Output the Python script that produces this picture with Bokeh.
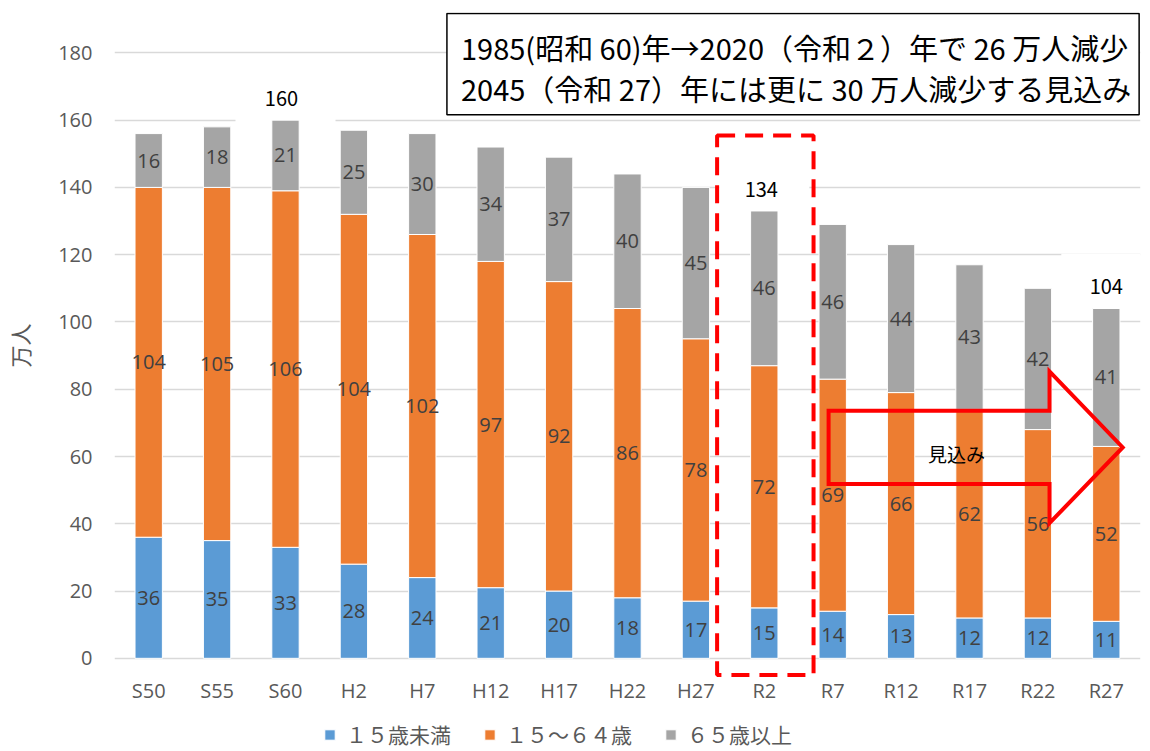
from bokeh.plotting import figure
from bokeh.models import ColumnDataSource, FixedTicker, Legend, LegendItem, Range1d, FactorRange
from bokeh.layouts import column
from bokeh.core.properties import value
from bokeh.embed import file_html
from bokeh.resources import INLINE
import numpy as np

# ---------------- data ----------------
cats = ["S50", "S55", "S60", "H2", "H7", "H12", "H17", "H22", "H27",
        "R2", "R7", "R12", "R17", "R22", "R27"]
under15 = [36, 35, 33, 28, 24, 21, 20, 18, 17, 15, 14, 13, 12, 12, 11]
age15_64 = [104, 105, 106, 104, 102, 97, 92, 86, 78, 72, 69, 66, 62, 56, 52]
over65 = [16, 18, 21, 25, 30, 34, 37, 40, 45, 46, 46, 44, 43, 42, 41]
series_names = ["１５歳未満", "１５～６４歳", "６５歳以上"]
y_ticks = [0, 20, 40, 60, 80, 100, 120, 140, 160, 180]
note_cats = ["S60", "R2", "R27"]
note_texts = ["160", "134", "104"]
title_lines = ["1985(昭和 60)年→2020（令和２）年で 26 万人減少",
               "2045（令和 27）年には更に 30 万人減少する見込み"]
arrow_text = "見込み"
y_label = "万人"

colors = ["#5B9BD5", "#ED7D31", "#A5A5A5"]
JP = "Noto Sans CJK JP"
NUM = "Open Sans"

p = figure(x_range=FactorRange(*cats), y_range=Range1d(-6, 192),
           width=1142, height=714, output_backend="svg", toolbar_location=None,
           min_border_left=105, min_border_right=2, min_border_top=12,
           min_border_bottom=36)
p.outline_line_color = None
p.xgrid.visible = False
p.ygrid.grid_line_color = "#D9D9D9"
p.ygrid.grid_line_width = 1.5

# totals
u = np.array(under15); a = np.array(age15_64); o = np.array(over65)
tot = u + a + o
tot_map = dict(zip(cats, tot))

# white text boxes behind the total notes (hide gridlines)
note_y = [float(tot_map[c]) + 6.5 for c in note_cats]
p.rect(x=note_cats, y=note_y, width=[100, 90, 90], height=66,
       width_units="screen", height_units="screen",
       fill_color="white", line_color=None)

# title box
p.quad(left=[4.86], right=[14.98], bottom=[161.6], top=[191.7],
       fill_color="white", line_color="black", line_width=1.5)

# stacked bars
source = ColumnDataSource(dict(cat=cats, u=under15, a=age15_64, o=over65))
rs = p.vbar_stack(["u", "a", "o"], x="cat", width=0.4, color=colors,
                  line_color="white", line_width=1, source=source)

# data labels (centered in segments)
lab_x, lab_y, lab_t = [], [], []
bottoms = np.zeros(len(cats))
for vals in (u, a, o):
    mids = bottoms + vals / 2.0
    lab_x += cats
    lab_y += list(mids)
    lab_t += [str(v) for v in vals]
    bottoms = bottoms + vals
p.text(x=lab_x, y=lab_y, text=lab_t, text_align="center", text_baseline="middle",
       text_font=value(NUM), text_font_size="20px", text_color="#404040")

# total notes
p.text(x=note_cats, y=note_y, text=note_texts, x_offset=[-4, -3, 0],
       text_align="center", text_baseline="middle",
       text_font=value(JP), text_font_size="20px", text_color="black")

# title text
p.text(x=[5.065, 5.065], y=[181.6, 169.7], text=title_lines,
       text_align="left", text_baseline="middle",
       text_font=value(JP), text_font_size="29px", text_color="black")

# red dashed highlight around R2
p.quad(left=[8.81], right=[10.22], bottom=[-4.97], top=[155.4],
       fill_color=None, line_color="#FF0000", line_width=4, line_dash="18 10")

# red block arrow (outline)
ax = [10.44, 13.67, 13.67, 14.74, 13.67, 13.67, 10.44]
ay = [73.6, 73.6, 85.3, 62.7, 40.2, 51.8, 51.8]
p.patch(ax, ay, fill_alpha=0, line_color="#FF0000", line_width=4, line_join="miter")
p.text(x=[12.31], y=[60.8], text=[arrow_text], text_align="center",
       text_baseline="middle", text_font=value(JP), text_font_size="19px",
       text_color="black")

# axes
p.yaxis.ticker = FixedTicker(ticks=y_ticks)
p.yaxis.axis_label = y_label
p.yaxis.axis_label_text_font = JP
p.yaxis.axis_label_text_font_style = "normal"
p.yaxis.axis_label_text_font_size = "22px"
p.yaxis.axis_label_text_color = "#595959"
p.yaxis.axis_label_standoff = 20
for ax_ in (p.xaxis, p.yaxis):
    ax_.axis_line_color = None
    ax_.major_tick_line_color = None
    ax_.minor_tick_line_color = None
    ax_.major_tick_out = 0
    ax_.major_tick_in = 0
    ax_.major_label_text_font = NUM
    ax_.major_label_text_font_size = "20px"
    ax_.major_label_text_color = "#595959"
p.yaxis.major_label_standoff = 22
p.xaxis.major_label_standoff = -2

# legend strip (separate small figure below the chart)
q = figure(width=1142, height=36, output_backend="svg", toolbar_location=None,
           x_range=Range1d(0, 1), y_range=Range1d(0, 1),
           min_border_left=0, min_border_right=0, min_border_top=0, min_border_bottom=0)
q.axis.visible = False
q.grid.visible = False
q.outline_line_color = None
dummies = [q.vbar(x=[-10], top=[-10], width=0.1, fill_color=c, line_color="white")
           for c in colors]
legend = Legend(items=[LegendItem(label=n, renderers=[r]) for n, r in zip(series_names, dummies)],
                orientation="horizontal", location=(209, 1),
                glyph_width=13, glyph_height=13, label_standoff=10, spacing=32,
                label_text_font=JP, label_text_font_size="21px",
                label_text_color="#595959", border_line_color=None,
                background_fill_alpha=0, padding=0, margin=0)
q.add_layout(legend, "center")

layout = column(p, q, spacing=0)
open("out.html", "w").write(file_html(layout, INLINE))
